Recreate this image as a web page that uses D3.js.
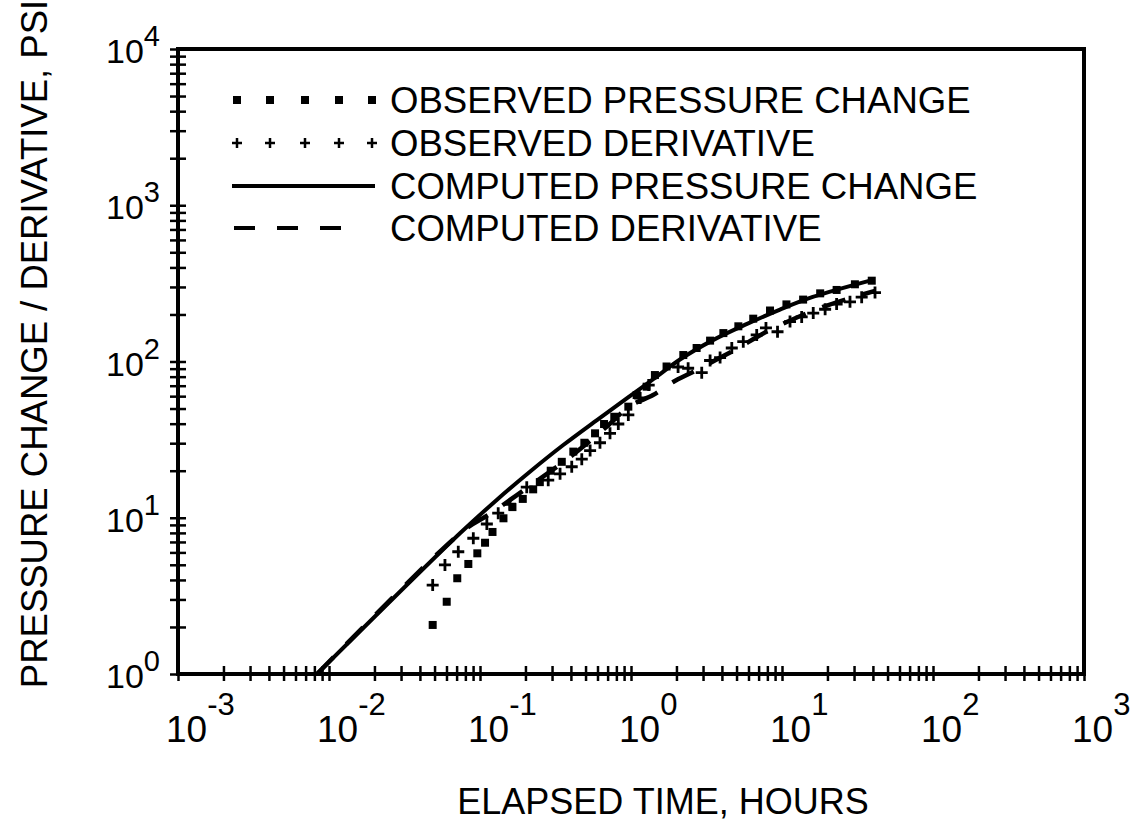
<!DOCTYPE html>
<html>
<head>
<meta charset="utf-8">
<script src="https://cdn.jsdelivr.net/npm/d3@7"></script>
<style>
  body { margin: 0; background: #fff; }
  svg { display: block; font-family: "Liberation Sans", Arial, Helvetica, sans-serif; }
</style>
</head>
<body>
<svg id="chart" width="1148" height="823"></svg>
<script>
// observed pressure change (squares)
let obsPressTime = [0.0486, 0.0602, 0.0707, 0.0837, 0.096, 0.108, 0.121, 0.143, 0.164, 0.192,
    0.225, 0.249, 0.294, 0.348, 0.415, 0.491, 0.578, 0.663, 0.775, 0.96,
    1.09, 1.27, 1.44, 1.72, 2.22, 2.72, 3.34, 4.09, 5.14, 6.45,
    8.33, 10.7, 13.8, 17.9, 23.0, 30.4, 39.3];
let obsPressValue = [2.06, 2.90, 4.10, 5.06, 5.92, 6.92, 8.11, 9.92, 11.7, 13.2,
    15.2, 16.9, 20.0, 22.8, 26.5, 30.2, 34.7, 39.8, 44.3, 51.4,
    61.0, 69.0, 81.9, 92.9, 110, 122, 136, 152, 168, 188,
    212, 232, 249, 273, 287, 312, 329];

// observed derivative (crosses)
let obsDerivTime = [0.0486, 0.0586, 0.0718, 0.0903, 0.111, 0.132, 0.158, 0.204, 0.283, 0.339,
    0.405, 0.472, 0.536, 0.623, 0.726, 0.824, 0.96, 1.15, 1.31, 2.05,
    2.39, 2.94, 3.34, 3.89, 4.65, 5.54, 6.80, 7.83, 9.34, 11.3,
    13.5, 16.1, 19.3, 23.0, 28.2, 33.7, 41.3];
let obsDerivValue = [3.71, 4.99, 6.06, 7.39, 9.12, 10.7, 12.2, 15.7, 17.4, 19.1,
    21.2, 23.7, 26.9, 30.2, 34.7, 39.8, 45.5, 58.4, 70.7, 92.2,
    90.5, 84.8, 101.5, 106, 122, 134, 148, 164, 155, 180,
    193, 204, 216, 233, 241, 258, 276];

// computed pressure change (solid)
let compPressTime = [0.00833, 0.0737, 0.129, 0.214, 0.356, 0.595, 0.937, 1.41, 2.11, 3.49, 5.87, 9.70, 16.0, 39.4];
let compPressValue = [1, 7.95, 13.0, 19.7, 29.2, 42.2, 58.0, 77.3, 103, 137, 174, 215, 259, 332];

// computed derivative (dashed)
let compDerivTime = [0.00833, 0.0772, 0.1165, 0.214, 0.395, 0.673, 0.985, 1.40, 1.90, 2.57, 4.74, 8.33, 17.9, 41.3];
let compDerivValue = [1, 8.23, 10.6, 16.0, 24.5, 37.5, 51.9, 61.0, 73.9, 85.7, 117, 159, 220, 283];

let xDecades = [-3, -2, -1, 0, 1, 2, 3];
let yDecades = [0, 1, 2, 3, 4];
let legendLabels = ["OBSERVED PRESSURE CHANGE", "OBSERVED DERIVATIVE",
    "COMPUTED PRESSURE CHANGE", "COMPUTED DERIVATIVE"];

let plot = { left: 178, right: 1084, top: 49, bottom: 674 };

let svg = d3.select("#chart");

let x = d3.scaleLog().domain([1e-3, 1e3]).range([plot.left, plot.right]);
let y = d3.scaleLog().domain([1, 1e4]).range([plot.bottom, plot.top]);

/**
 * All log ticks 1..9 for every decade between two exponents
 */
function logTicks(lo, hi) {
    let out = [];
    for (let e = lo; e < hi; e++) {
        for (let k = 1; k < 10; k++) out.push(k * Math.pow(10, e));
    }
    out.push(Math.pow(10, hi));
    return out;
}

// x axis tick marks (crossing the axis line)
let xAxis = svg.append("g")
    .attr("transform", "translate(0," + plot.bottom + ")")
    .call(d3.axisBottom(x).tickValues(logTicks(-3, 3)).tickFormat("").tickSizeOuter(0));
xAxis.select(".domain").remove();
xAxis.selectAll(".tick line").attr("y1", -8).attr("y2", 7)
    .attr("stroke", "#000").attr("stroke-width", 2.5);

// y axis tick marks
let yAxis = svg.append("g")
    .attr("transform", "translate(" + plot.left + ",0)")
    .call(d3.axisLeft(y).tickValues(logTicks(0, 4)).tickFormat("").tickSizeOuter(0));
yAxis.select(".domain").remove();
yAxis.selectAll(".tick line").attr("x1", -8).attr("x2", 8)
    .attr("stroke", "#000").attr("stroke-width", 2.5);

// frame
svg.append("rect")
    .attr("x", plot.left)
    .attr("y", plot.top)
    .attr("width", plot.right - plot.left)
    .attr("height", plot.bottom - plot.top)
    .attr("fill", "none")
    .attr("stroke", "#000")
    .attr("stroke-width", 4);

// x tick labels: 10 with a raised exponent
xDecades.forEach(function(e) {
    let t = svg.append("text")
        .attr("x", x(Math.pow(10, e)) - 12)
        .attr("y", plot.bottom + 68)
        .attr("font-size", 37)
        .attr("fill", "#000");
    t.append("tspan").text("10");
    t.append("tspan").attr("dy", -27).attr("font-size", 31).text(e);
});

// y tick labels
yDecades.forEach(function(e) {
    let t = svg.append("text")
        .attr("x", 160)
        .attr("y", y(Math.pow(10, e)) + 14)
        .attr("text-anchor", "end")
        .attr("font-size", 34)
        .attr("fill", "#000");
    t.append("tspan").text("10");
    t.append("tspan").attr("dy", -17).attr("font-size", 29).text(e);
});

// axis titles
svg.append("text")
    .attr("x", 663)
    .attr("y", 814)
    .attr("text-anchor", "middle")
    .attr("font-size", 36)
    .text("ELAPSED TIME, HOURS");

svg.append("text")
    .attr("transform", "translate(47,344) rotate(-90)")
    .attr("text-anchor", "middle")
    .attr("font-size", 36.5)
    .text("PRESSURE CHANGE / DERIVATIVE, PSI");

// curves
let line = d3.line()
    .x(d => x(d[0]))
    .y(d => y(d[1]))
    .curve(d3.curveCatmullRom.alpha(0.5));

svg.append("path")
    .datum(d3.zip(compPressTime, compPressValue))
    .attr("d", line)
    .attr("fill", "none")
    .attr("stroke", "#000")
    .attr("stroke-width", 4);

svg.append("path")
    .datum(d3.zip(compDerivTime, compDerivValue))
    .attr("d", line)
    .attr("fill", "none")
    .attr("stroke", "#000")
    .attr("stroke-width", 4.5)
    .attr("stroke-dasharray", "24,18");

// observed pressure squares
let sq = 8;
svg.append("g")
    .selectAll("rect")
    .data(d3.zip(obsPressTime, obsPressValue))
    .enter()
    .append("rect")
    .attr("x", d => x(d[0]) - sq / 2)
    .attr("y", d => y(d[1]) - sq / 2)
    .attr("width", sq)
    .attr("height", sq)
    .attr("fill", "#000");

// observed derivative crosses
let cr = 6;
svg.append("g")
    .selectAll("path")
    .data(d3.zip(obsDerivTime, obsDerivValue))
    .enter()
    .append("path")
    .attr("d", function(d) {
        let cx = x(d[0]), cy = y(d[1]);
        return "M" + (cx - cr) + "," + cy + "H" + (cx + cr) + "M" + cx + "," + (cy - cr) + "V" + (cy + cr);
    })
    .attr("stroke", "#000")
    .attr("stroke-width", 2.8);

// legend
let legendX = [237, 270, 305, 339, 372];
let legendRowY = [100, 143, 186, 228];
let legend = svg.append("g");

legendX.forEach(function(lx) {
    legend.append("rect")
        .attr("x", lx - 4).attr("y", legendRowY[0] - 4)
        .attr("width", 8).attr("height", 8)
        .attr("fill", "#000");
    legend.append("path")
        .attr("d", "M" + (lx - 5) + "," + legendRowY[1] + "H" + (lx + 5) +
            "M" + lx + "," + (legendRowY[1] - 5) + "V" + (legendRowY[1] + 5))
        .attr("stroke", "#000")
        .attr("stroke-width", 2.5);
});

legend.append("line")
    .attr("x1", 232).attr("x2", 375)
    .attr("y1", legendRowY[2]).attr("y2", legendRowY[2])
    .attr("stroke", "#000").attr("stroke-width", 4);

legend.append("line")
    .attr("x1", 234).attr("x2", 342)
    .attr("y1", legendRowY[3]).attr("y2", legendRowY[3])
    .attr("stroke", "#000").attr("stroke-width", 4)
    .attr("stroke-dasharray", "21,22");

legend.selectAll("text.lbl")
    .data(legendLabels)
    .enter()
    .append("text")
    .attr("class", "lbl")
    .attr("x", 390)
    .attr("y", (d, i) => legendRowY[i] + 13)
    .attr("font-size", 36.6)
    .text(d => d);
</script>
</body>
</html>
